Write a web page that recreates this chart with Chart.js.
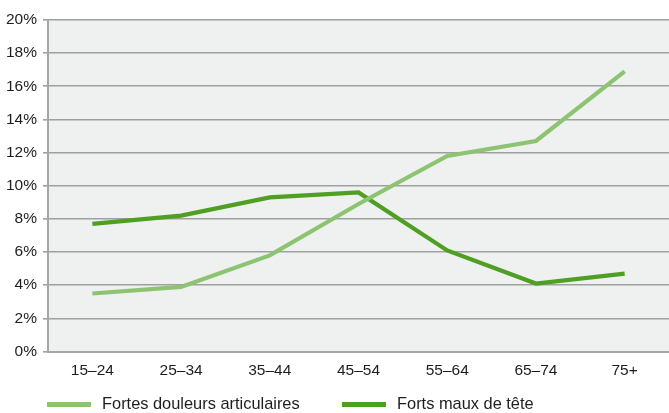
<!DOCTYPE html>
<html>
<head>
<meta charset="utf-8">
<script src="https://cdn.jsdelivr.net/npm/chart.js@4.4.1/dist/chart.umd.min.js"></script>
<style>
  html, body { margin: 0; padding: 0; background: #ffffff; }
  #wrap { width: 669px; height: 413px; position: relative; }
</style>
</head>
<body>
<div id="wrap"><canvas id="c" width="669" height="413"></canvas></div>
<script>
const categories = ['15–24', '25–34', '35–44', '45–54', '55–64', '65–74', '75+'];
const jointPain = [3.5, 3.9, 5.8, 8.9, 11.8, 12.7, 16.9];
const headache = [7.7, 8.2, 9.3, 9.6, 6.1, 4.1, 4.7];
const seriesNames = ['Fortes douleurs articulaires', 'Forts maux de tête'];
const yTicks = [0, 2, 4, 6, 8, 10, 12, 14, 16, 18, 20];

const FONT = "'Liberation Sans', Arial, sans-serif";
const TICK_SIZE = 15.5;
const LEGEND_SIZE = 16.4;
const TEXT = '#1e1e1e';
const LIGHT = '#8DC471';
const DARK = '#4F9F23';

const plotBg = {
  id: 'plotBg',
  beforeDraw(chart) {
    const {ctx, chartArea: a} = chart;
    ctx.save();
    ctx.fillStyle = '#eff0f0';
    ctx.fillRect(a.left, a.top, a.right - a.left, a.bottom - a.top);
    ctx.restore();
  }
};

const customLegend = {
  id: 'customLegend',
  afterDraw(chart) {
    const {ctx} = chart;
    const xs = [47, 342];
    const y = 404.5;
    ctx.save();
    ctx.font = LEGEND_SIZE + 'px ' + FONT;
    ctx.textBaseline = 'middle';
    ctx.textAlign = 'left';
    chart.data.datasets.forEach((ds, i) => {
      ctx.fillStyle = ds.borderColor;
      ctx.fillRect(xs[i], y - 2.5, 44, 5);
      ctx.fillStyle = TEXT;
      ctx.fillText(ds.label, xs[i] + 55, y);
    });
    ctx.restore();
  }
};

new Chart(document.getElementById('c'), {
  type: 'line',
  data: {
    labels: categories,
    datasets: [
      { label: seriesNames[0], data: jointPain, borderColor: LIGHT, backgroundColor: LIGHT, borderWidth: 4.2, pointRadius: 0, tension: 0, borderCapStyle: 'butt', borderJoinStyle: 'miter' },
      { label: seriesNames[1], data: headache, borderColor: DARK, backgroundColor: DARK, borderWidth: 4.2, pointRadius: 0, tension: 0, borderCapStyle: 'butt', borderJoinStyle: 'miter' }
    ]
  },
  options: {
    responsive: false,
    animation: false,
    devicePixelRatio: 1,
    layout: { padding: { top: 20, right: 0, left: 0, bottom: 36 } },
    plugins: { legend: { display: false }, tooltip: { enabled: false } },
    scales: {
      x: {
        offset: true,
        grid: { display: true, drawOnChartArea: false, drawTicks: false },
        border: { display: true, color: '#a6a6a6', width: 2 },
        ticks: { color: TEXT, font: { family: FONT, size: TICK_SIZE }, padding: 10, maxRotation: 0 },
        afterFit(scale) { scale.height = 25.5; }
      },
      y: {
        min: 0, max: 20,
        afterBuildTicks(scale) { scale.ticks = yTicks.map(v => ({ value: v })); },
        grid: { color: '#9f9f9f', lineWidth: 1.6, tickLength: 5, drawTicks: true },
        border: { display: true, color: '#a6a6a6', width: 2 },
        ticks: { color: TEXT, font: { family: FONT, size: TICK_SIZE }, padding: 6, callback: v => v + '%' },
        afterFit(scale) { scale.width = 48; }
      }
    }
  },
  plugins: [plotBg, customLegend]
});
</script>
</body>
</html>
